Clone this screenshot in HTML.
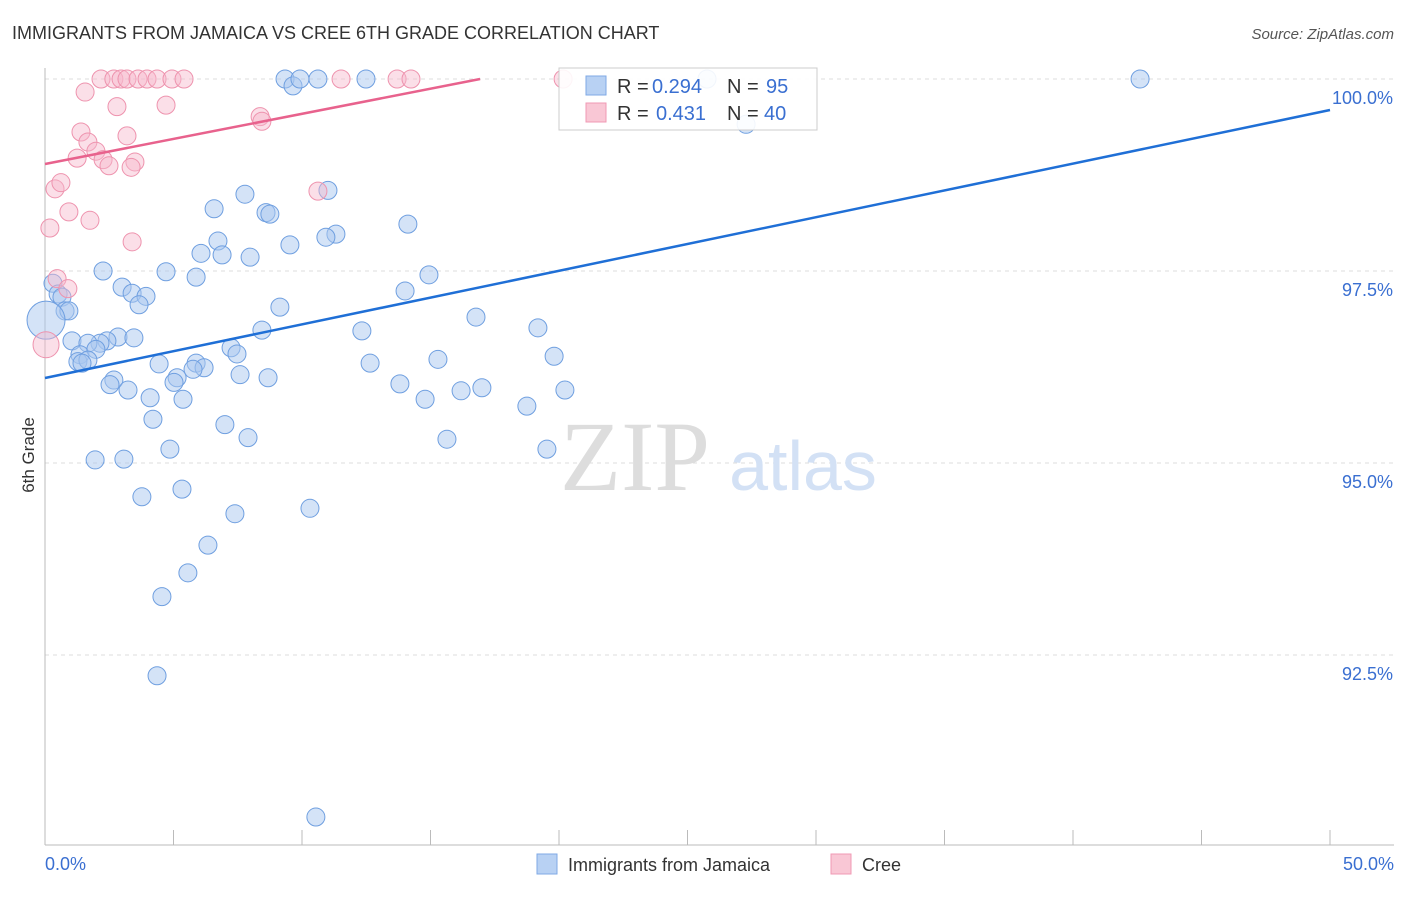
<!DOCTYPE html>
<html><head><meta charset="utf-8"><style>
body{margin:0;background:#fff;font-family:"Liberation Sans",sans-serif;}
svg text{font-family:"Liberation Sans",sans-serif;}
</style></head><body>
<svg id="chart" width="1406" height="892" xmlns="http://www.w3.org/2000/svg">
<text x="12" y="39" font-size="18" fill="#333">IMMIGRANTS FROM JAMAICA VS CREE 6TH GRADE CORRELATION CHART</text>
<text x="1394" y="39" font-size="15" fill="#555" text-anchor="end" font-style="italic">Source: ZipAtlas.com</text>
<text transform="translate(34,455) rotate(-90)" font-size="17" fill="#333" text-anchor="middle">6th Grade</text>
<g id="grid"></g>
<g>
<text x="635" y="490" font-size="100" fill="#ddd" text-anchor="middle" style="font-family:'Liberation Serif',serif">ZIP</text>
<text x="803" y="490" font-size="70" fill="#d3e1f5" text-anchor="middle">atlas</text>
</g>
<g id="pts"></g>
<g id="lines"></g>
<g>
<rect x="559" y="68" width="258" height="62" fill="#fff" fill-opacity="0.9" stroke="#ccc"/>
<rect x="586" y="76" width="20" height="19" fill="#b8d1f3" stroke="#7fa9e6"/>
<rect x="586" y="103" width="20" height="19" fill="#f9c7d5" stroke="#f09ab4"/>
<text y="93" font-size="20" fill="#333"><tspan x="617">R =</tspan><tspan x="652" fill="#3a6fd1">0.294</tspan><tspan x="727">N =</tspan><tspan x="766" fill="#3a6fd1">95</tspan></text>
<text y="120" font-size="20" fill="#333"><tspan x="617">R =</tspan><tspan x="656" fill="#3a6fd1">0.431</tspan><tspan x="727">N =</tspan><tspan x="764" fill="#3a6fd1">40</tspan></text>
</g>
<g>
<rect x="537" y="854" width="20" height="20" fill="#b8d1f3" stroke="#7fa9e6"/>
<text x="568" y="871" font-size="18" fill="#333">Immigrants from Jamaica</text>
<rect x="831" y="854" width="20" height="20" fill="#f9c7d5" stroke="#f09ab4"/>
<text x="862" y="871" font-size="18" fill="#333">Cree</text>
</g>
</svg>
<script>
const yTicks=[100,97.5,95,92.5];
const yTickLabels=["100.0%","97.5%","95.0%","92.5%"];
const blueX=[9.34,9.65,9.92,10.62,12.49,25.76,42.61,27.28,11.01,7.78,6.58,8.60,8.75,14.12,11.32,10.93,6.73,6.07,6.89,7.98,9.53,2.26,4.71,5.88,14.94,0.31,3.00,0.51,3.39,3.93,0.66,14.01,3.66,9.14,0.78,0.93,16.77,8.44,12.33,19.18,2.84,3.46,2.41,1.05,2.14,1.67,7.24,7.47,1.36,1.98,1.28,1.67,15.29,19.81,12.65,4.44,5.88,6.19,5.76,1.44,7.59,8.68,5.14,5.02,2.68,2.53,13.81,3.23,17.00,16.19,20.23,14.79,4.09,5.37,18.75,4.20,7.00,7.90,15.64,4.86,19.53,1.95,3.07,3.77,5.33,7.39,10.31,6.34,5.56,4.55,4.36,10.54,0.04];
const blueY=[100,99.91,100,100,100,100,100,99.41,98.55,98.50,98.31,98.26,98.24,98.11,97.98,97.94,97.89,97.73,97.71,97.68,97.84,97.50,97.49,97.42,97.45,97.34,97.29,97.20,97.21,97.17,97.16,97.24,97.06,97.03,96.98,96.98,96.90,96.73,96.72,96.76,96.64,96.63,96.59,96.59,96.56,96.56,96.50,96.42,96.41,96.48,96.32,96.34,96.35,96.39,96.30,96.29,96.30,96.24,96.22,96.30,96.15,96.11,96.11,96.05,96.08,96.02,96.03,95.95,95.98,95.94,95.95,95.83,95.85,95.83,95.74,95.57,95.50,95.33,95.31,95.18,95.18,95.04,95.05,94.56,94.66,94.34,94.41,93.93,93.57,93.26,92.23,90.39,96.86];
const pinkX=[2.18,2.68,2.96,3.19,3.62,3.97,4.36,4.94,5.41,11.52,13.70,14.24,20.16,1.56,2.80,4.71,8.37,8.44,1.40,1.67,1.98,3.19,2.26,2.49,3.50,1.25,3.35,0.39,0.62,0.93,1.75,0.19,10.62,3.39,0.47,0.89,0.04];
const pinkY=[100,100,100,100,100,100,100,100,100,100,100,100,100,99.83,99.64,99.66,99.51,99.45,99.31,99.18,99.06,99.26,98.95,98.87,98.92,98.97,98.85,98.57,98.65,98.27,98.16,98.06,98.54,97.88,97.40,97.27,96.54];
const blueTrend=[[0,96.107],[50,99.596]];
const pinkTrend=[[0,98.893],[16.93,100]];
const sx=v=>45+v/50*1285;
const sy=v=>79+(100-v)/2.5*192;
const NS="http://www.w3.org/2000/svg";
function mk(tag,attrs,parent){const e=document.createElementNS(NS,tag);for(const k in attrs)e.setAttribute(k,attrs[k]);parent.appendChild(e);return e;}
const grid=document.getElementById('grid');
yTicks.forEach((t,i)=>{
 const l=mk('line',{x1:45,x2:1394,y1:sy(t),y2:sy(t),stroke:'#ddd','stroke-dasharray':'4,4'},grid);
 
 
 const tx=mk('text',{x:1393,y:sy(t)+25,'font-size':18,fill:'#3a6fd1','text-anchor':'end'},grid);
 tx.textContent=yTickLabels[i];
 
 
});
const ax=mk('line',{x1:45,x2:45,y1:68,y2:845,stroke:'#bbb'},grid);


const bx=mk('line',{x1:45,x2:1394,y1:845,y2:845,stroke:'#bbb'},grid);


for(let i=0;i<=10;i++){
 const v=i*5;
 const t=mk('line',{x1:sx(v),x2:sx(v),y1:830,y2:845,stroke:'#bbb'},grid);
 
 
}
const xl=mk('text',{x:45,y:870,'font-size':18,fill:'#3a6fd1'},grid);xl.textContent='0.0%';


const xr=mk('text',{x:1394,y:870,'font-size':18,fill:'#3a6fd1','text-anchor':'end'},grid);xr.textContent='50.0%';


const pts=document.getElementById('pts');
blueX.forEach((x,i)=>{
 const big=i===blueX.length-1;
 const c=mk('circle',{cx:sx(x),cy:sy(blueY[i]),r:big?19:9,fill:'#a9c7f0','fill-opacity':0.5,stroke:'#6f9fe0','stroke-width':1},pts);
 
 
});
pinkX.forEach((x,i)=>{
 const big=i===pinkX.length-1;
 const c=mk('circle',{cx:sx(x),cy:sy(pinkY[i]),r:big?13:9,fill:'#f7b8cb','fill-opacity':0.45,stroke:'#ee93ae','stroke-width':1},pts);
 
 
});
const lines=document.getElementById('lines');
const bl=mk('line',{x1:sx(blueTrend[0][0]),y1:sy(blueTrend[0][1]),x2:sx(blueTrend[1][0]),y2:sy(blueTrend[1][1]),stroke:'#1f6fd6','stroke-width':2.5},lines);


const pl=mk('line',{x1:sx(pinkTrend[0][0]),y1:sy(pinkTrend[0][1]),x2:sx(pinkTrend[1][0]),y2:sy(pinkTrend[1][1]),stroke:'#e8628d','stroke-width':2.5},lines);


</script>
</body></html>
